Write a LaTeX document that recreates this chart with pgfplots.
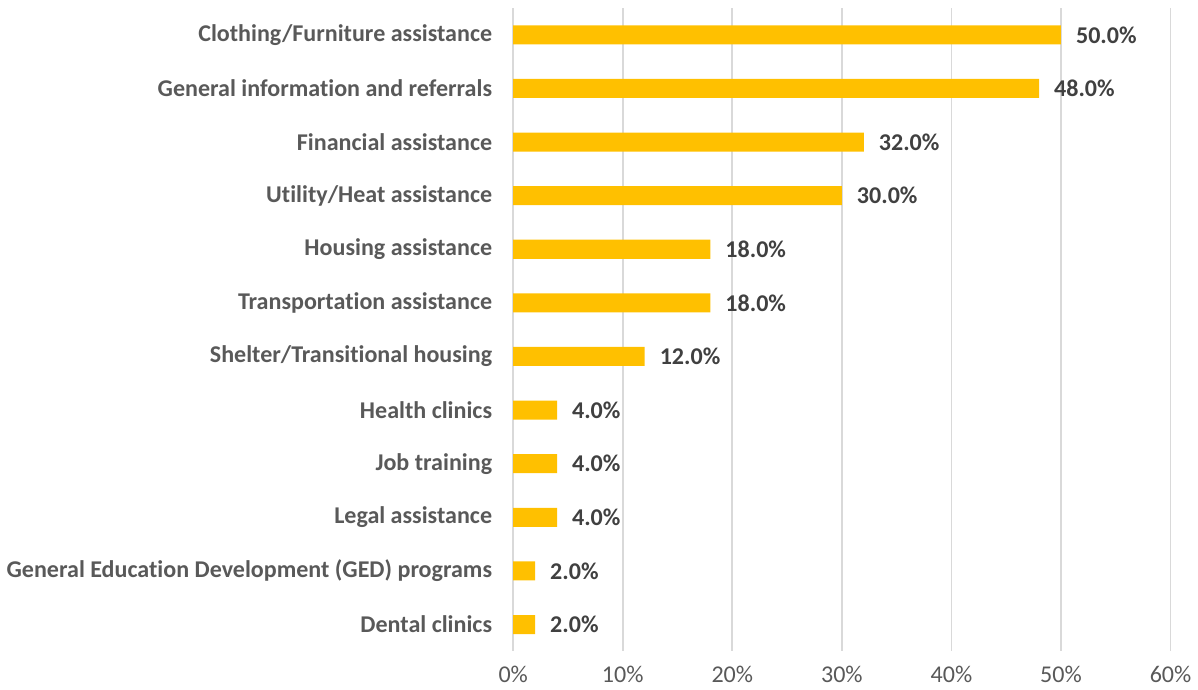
\documentclass[border=0pt]{standalone}
\usepackage{fontspec}
\setmainfont{Carlito}[Ligatures=NoCommon]
\usepackage{pgfplots}
\pgfplotsset{compat=1.18}
\definecolor{barc}{HTML}{FFC000}
\definecolor{gridc}{HTML}{D9D9D9}
\definecolor{labc}{HTML}{595959}
\definecolor{valc}{HTML}{404040}
\begin{document}
\begin{tikzpicture}
\begin{axis}[
  scale only axis,
  width=328pt, height=321pt,
  xbar, bar width=9.5pt,
  xmin=0, xmax=60,
  ymin=-0.5, ymax=11.5,
  y dir=reverse,
  xtick={0,10,20,30,40,50,60},
  xticklabel={\pgfmathprintnumber{\tick}\%},
  /pgf/number format/assume math mode=true,
  ytick={0,...,11},
  yticklabels={Clothing/Furniture assistance,General information and referrals,Financial assistance,Utility/Heat assistance,Housing assistance,Transportation assistance,Shelter/Transitional housing,Health clinics,Job training,Legal assistance,General Education Development (GED) programs,Dental clinics},
  yticklabel style={font=\fontsize{12}{14}\selectfont\bfseries, text=labc, xshift=-7pt},
  xticklabel style={font=\fontsize{12}{14}\selectfont, text=labc, yshift=-4pt},
  axis line style={draw=none},
  major tick length=0pt,
  xmajorgrids, grid style={gridc, line width=0.9pt},
  nodes near coords={\pgfmathprintnumber[fixed,fixed zerofill,precision=1]{\pgfplotspointmeta}\%},
  nodes near coords style={font=\fontsize{12}{14}\selectfont\bfseries, text=valc, anchor=west, xshift=4pt},
  point meta=x,
]
\addplot[fill=barc, draw=none] coordinates {
(50,0) (48,1) (32,2) (30,3) (18,4) (18,5) (12,6) (4,7) (4,8) (4,9) (2,10) (2,11)
};
\end{axis}
\path ([yshift=4pt]current axis.north);
\end{tikzpicture}
\end{document}
